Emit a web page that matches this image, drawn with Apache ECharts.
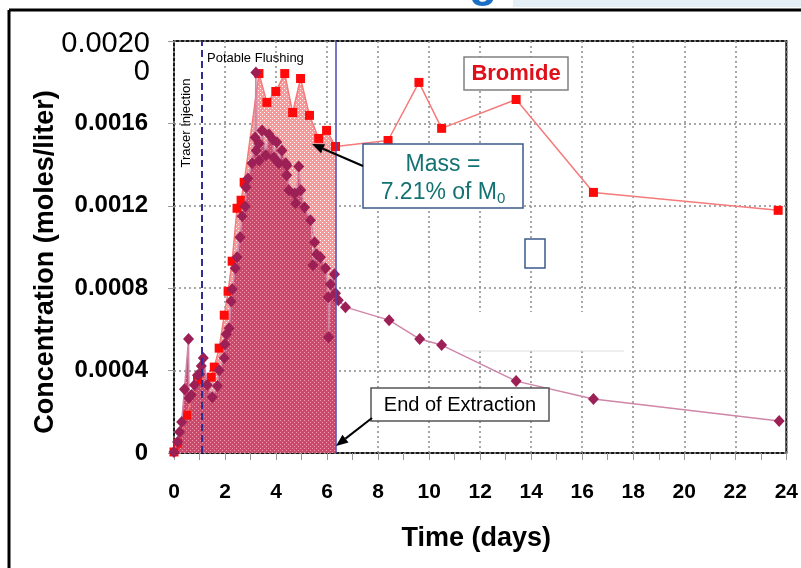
<!DOCTYPE html>
<html><head><meta charset="utf-8">
<script src="https://cdn.jsdelivr.net/npm/echarts@6/dist/echarts.min.js"></script>
<style>html,body{margin:0;padding:0;background:#fff}#c{width:801px;height:568px}</style>
</head><body><div id="c"></div>
<script>
// ---------- data ----------
const bromideX = [0, 0.14, 0.49, 0.92, 1.46, 1.58, 1.77, 1.97, 2.12, 2.28, 2.47, 2.63, 2.75, 3.33, 3.64, 3.99, 4.34, 4.65, 4.96, 5.31, 5.67, 5.98, 6.33, 8.39, 9.60, 10.49, 13.41, 16.44, 23.68];
const bromideY = [0.000005, 0.000048, 0.000184, 0.000354, 0.000368, 0.000417, 0.000509, 0.000669, 0.000785, 0.000931, 0.001188, 0.001227, 0.001314, 0.001842, 0.001702, 0.001755, 0.001842, 0.001653, 0.001818, 0.001639, 0.001527, 0.001566, 0.001488, 0.001517, 0.001799, 0.001576, 0.001716, 0.001265, 0.001178];
const tracerX = [0.00, 0.14, 0.22, 0.30, 0.41, 0.57, 0.59, 0.68, 0.80, 0.92, 1.00, 1.07, 1.15, 1.31, 1.50, 1.70, 1.77, 1.97, 1.99, 2.05, 2.16, 2.24, 2.28, 2.40, 2.47, 2.59, 2.67, 2.79, 2.82, 2.90, 3.06, 3.18, 3.21, 3.22, 3.33, 3.34, 3.45, 3.60, 3.72, 3.88, 3.91, 4.03, 4.11, 4.23, 4.38, 4.42, 4.43, 4.50, 4.73, 4.77, 4.89, 4.97, 5.12, 5.35, 5.51, 5.45, 5.59, 5.74, 5.94, 6.05, 6.06, 6.13, 6.29, 6.33, 6.44, 6.72, 8.43, 9.63, 10.49, 13.41, 16.44, 23.72];
const tracerY = [0.000005, 0.000053, 0.000102, 0.000150, 0.000310, 0.000553, 0.000267, 0.000281, 0.000330, 0.000378, 0.000383, 0.000422, 0.000461, 0.000330, 0.000271, 0.000325, 0.000402, 0.000461, 0.000528, 0.000577, 0.000606, 0.000737, 0.000795, 0.000897, 0.000950, 0.001047, 0.001149, 0.001197, 0.001290, 0.001333, 0.001406, 0.001532, 0.001847, 0.001469, 0.001503, 0.001420, 0.001566, 0.001445, 0.001547, 0.001522, 0.001435, 0.001508, 0.001406, 0.001469, 0.001406, 0.001348, 0.001396, 0.001275, 0.001260, 0.001212, 0.001391, 0.001275, 0.001193, 0.001130, 0.001023, 0.000911, 0.000965, 0.000950, 0.000897, 0.000756, 0.000562, 0.000819, 0.000868, 0.000776, 0.000742, 0.000708, 0.000645, 0.000553, 0.000524, 0.000349, 0.000262, 0.000155];
const xTickValues = [0, 2, 4, 6, 8, 10, 12, 14, 16, 18, 20, 22, 24];
const xTickLabels = ['0', '2', '4', '6', '8', '10', '12', '14', '16', '18', '20', '22', '24'];
const yTickValues = [0, 0.0004, 0.0008, 0.0012, 0.0016, 0.0020];
const yTickLabels = ['0', '0.0004', '0.0008', '0.0012', '0.0016', '0.0020\n0'];
const injectionDay = 1.07;
const extractionEndDay = 6.33;
const seriesNames = ['Bromide', 'Tracer'];
const annotationTexts = {
  flushing: 'Potable Flushing', injection: 'Tracer Injection', bromide: 'Bromide',
  mass1: 'Mass =', mass2: '7.21% of M', massSub: '0', extraction: 'End of Extraction'
};

// ---------- build ----------
const FONT = 'Liberation Sans, Arial, Helvetica, sans-serif';
const brom = bromideX.map((x, i) => [x, bromideY[i]]);
const trac = tracerX.map((x, i) => [x, tracerY[i]]);
const bromArea = brom.filter(p => p[0] <= extractionEndDay);
const tracArea = trac.filter(p => p[0] <= extractionEndDay).slice().sort((a, b) => a[0] - b[0]);

function pattern(base, dot) {
  const c = document.createElement('canvas');
  c.width = 4; c.height = 4;
  const g = c.getContext('2d');
  g.fillStyle = base; g.fillRect(0, 0, 4, 4);
  g.fillStyle = dot; g.fillRect(0, 0, 1, 1); g.fillRect(2, 2, 1, 1);
  return { image: c, repeat: 'repeat' };
}
function nearestIdx(arr, v) {
  let b = 0;
  arr.forEach((a, i) => { if (Math.abs(a - v) < Math.abs(arr[b] - v)) b = i; });
  return b;
}
function arrow(x1, y1, x2, y2, color) {
  const ang = Math.atan2(y2 - y1, x2 - x1), L = 12, W = 5;
  const bx = x2 - L * Math.cos(ang), by = y2 - L * Math.sin(ang);
  const px = -Math.sin(ang) * W, py = Math.cos(ang) * W;
  return [
    { type: 'line', z: 100, shape: { x1, y1, x2: bx, y2: by }, style: { stroke: color, lineWidth: 2 } },
    { type: 'polygon', z: 100, shape: { points: [[x2, y2], [bx + px, by + py], [bx - px, by - py]] }, style: { fill: color } }
  ];
}

const chart = echarts.init(document.getElementById('c'), null, { renderer: 'canvas' });
const option = {
  animation: false,
  backgroundColor: '#fff',
  grid: { left: 174, right: 9, top: 41, bottom: 115, show: true, borderColor: '#1a1a1a', borderWidth: 2 },
  xAxis: {
    type: 'value', min: 0, max: 24, interval: 2,
    axisLine: { show: false },
    axisTick: { show: true, length: 7, lineStyle: { color: '#999' } },
    minorTick: { show: true, splitNumber: 2, length: 7, lineStyle: { color: '#999' } },
    axisLabel: { margin: 29, fontFamily: FONT, fontWeight: 'bold', fontSize: 21, color: '#000',
      formatter: v => xTickLabels[nearestIdx(xTickValues, v)] },
    splitLine: { show: true, lineStyle: { type: [2, 3], color: '#8a8a8a', width: 1.5 } },
    name: 'Time (days)', nameLocation: 'middle', nameGap: 72,
    nameTextStyle: { fontFamily: FONT, fontWeight: 'bold', fontSize: 27, color: '#000', padding: [0, 8, 0, 0] }
  },
  yAxis: {
    type: 'value', min: 0, max: 0.002, interval: 0.0004, offset: 13,
    axisLine: { show: false },
    axisTick: { show: true, length: 6, lineStyle: { color: '#999' } },
    axisLabel: { margin: 13, fontFamily: FONT, fontWeight: 'bold', fontSize: 24, color: '#000',
      formatter: v => { const i = nearestIdx(yTickValues, v); return i === yTickValues.length - 1 ? '' : yTickLabels[i]; } },
    splitLine: { show: true, lineStyle: { type: [2, 3], color: '#8a8a8a', width: 1.5 } },
    name: 'Concentration (moles/liter)', nameLocation: 'middle', nameGap: 102,
    nameTextStyle: { fontFamily: FONT, fontWeight: 'bold', fontSize: 27, color: '#000', padding: [0, 30, 0, 0] }
  },
  series: [
    { type: 'line', name: seriesNames[0] + ' area', data: bromArea, symbol: 'none', silent: true, z: 2,
      lineStyle: { width: 0 }, areaStyle: { color: pattern('#f59a9a', '#ffffff'), opacity: 1 } },
    { type: 'line', name: seriesNames[1] + ' area', data: tracArea, symbol: 'none', silent: true, z: 2,
      lineStyle: { width: 0 }, areaStyle: { color: pattern('#c94a6c', '#ee9aac'), opacity: 1 } },
    { type: 'line', name: seriesNames[0], data: brom, z: 3,
      symbol: 'rect', symbolSize: 9, itemStyle: { color: '#ff0a0a' },
      lineStyle: { color: '#f57a7a', width: 1.5 },
      markLine: { silent: true, symbol: 'none', label: { show: false },
        data: [
          { xAxis: injectionDay, lineStyle: { type: [7, 4], color: '#2e2e94', width: 2 } },
          { xAxis: extractionEndDay, lineStyle: { type: 'solid', color: '#4848b0', width: 1.5 } }
        ] } },
    { type: 'line', name: seriesNames[1], data: trac, z: 4,
      symbol: 'diamond', symbolSize: [11, 12], itemStyle: { color: '#9c1f55' },
      lineStyle: { color: '#cf86a8', width: 1.5 } }
  ],
  graphic: [
    // slide remnants at top
    { type: 'rect', z: 0, shape: { x: 513, y: 0, width: 288, height: 7 }, style: { fill: '#e4eff6' } },
    { type: 'text', z: 0, x: 469, y: -17, style: { text: 'g', font: 'bold 46px ' + FONT, fill: '#1a6fc4', verticalAlign: 'middle' } },
    { type: 'line', z: 100, shape: { x1: 9, y1: 10, x2: 801, y2: 10 }, style: { stroke: '#000', lineWidth: 3 } },
    { type: 'line', z: 100, shape: { x1: 9, y1: 10, x2: 9, y2: 568 }, style: { stroke: '#000', lineWidth: 3 } },
    // top y tick label (wrapped)
    { type: 'text', z: 50, x: 150, y: 44, style: { text: yTickLabels[5].split('\n')[0], font: '29px ' + FONT, fill: '#000', align: 'right', verticalAlign: 'middle' } },
    { type: 'text', z: 50, x: 150, y: 72, style: { text: yTickLabels[5].split('\n')[1], font: '29px ' + FONT, fill: '#000', align: 'right', verticalAlign: 'middle' } },
    // white patch
    { type: 'rect', z: 1, shape: { x: 463, y: 312, width: 162, height: 39 }, style: { fill: '#fff' } },
    { type: 'line', z: 1, shape: { x1: 463, y1: 351, x2: 624, y2: 351 }, style: { stroke: '#dddddd', lineWidth: 1 } },
    // text labels
    { type: 'text', z: 50, x: 207, y: 58, style: { text: annotationTexts.flushing, font: '13px ' + FONT, fill: '#000', verticalAlign: 'middle' } },
    { type: 'text', z: 50, x: 186, y: 123, rotation: Math.PI / 2, style: { text: annotationTexts.injection, font: '13px ' + FONT, fill: '#000', align: 'center', verticalAlign: 'middle' } },
    // Bromide box
    { type: 'rect', z: 100, shape: { x: 464, y: 57, width: 104, height: 33 }, style: { fill: '#fff', stroke: '#808080', lineWidth: 1.5 } },
    { type: 'text', z: 101, x: 516, y: 74, style: { text: annotationTexts.bromide, font: 'bold 22px ' + FONT, fill: '#e0101a', align: 'center', verticalAlign: 'middle' } },
    // Mass box
    { type: 'rect', z: 100, shape: { x: 363, y: 144, width: 160, height: 64 }, style: { fill: '#fff', stroke: '#3b5a8a', lineWidth: 1.5 } },
    { type: 'text', z: 101, x: 443, y: 165, style: { text: annotationTexts.mass1, font: '23px ' + FONT, fill: '#157272', align: 'center', verticalAlign: 'middle' } },
    { type: 'text', z: 101, x: 443, y: 193, style: { text: annotationTexts.mass2 + '{s|' + annotationTexts.massSub + '}', font: '23px ' + FONT, fill: '#157272', align: 'center', verticalAlign: 'middle',
      rich: { s: { fontSize: 15, fontFamily: FONT, fill: '#157272', padding: [12, 0, 0, 0] } } } },
    ...arrow(363, 166, 312, 144, '#000'),
    // End of extraction box
    { type: 'rect', z: 100, shape: { x: 371, y: 388, width: 178, height: 33 }, style: { fill: '#fff', stroke: '#555', lineWidth: 1.5 } },
    { type: 'text', z: 101, x: 460, y: 405, style: { text: annotationTexts.extraction, font: '20px ' + FONT, fill: '#000', align: 'center', verticalAlign: 'middle' } },
    ...arrow(372, 418, 336, 446, '#000'),
    // small empty box
    { type: 'rect', z: 100, shape: { x: 525, y: 239, width: 20, height: 29 }, style: { fill: '#fff', stroke: '#3a5a8a', lineWidth: 1.5 } }
  ]
};
chart.setOption(option);
</script>
</body></html>
